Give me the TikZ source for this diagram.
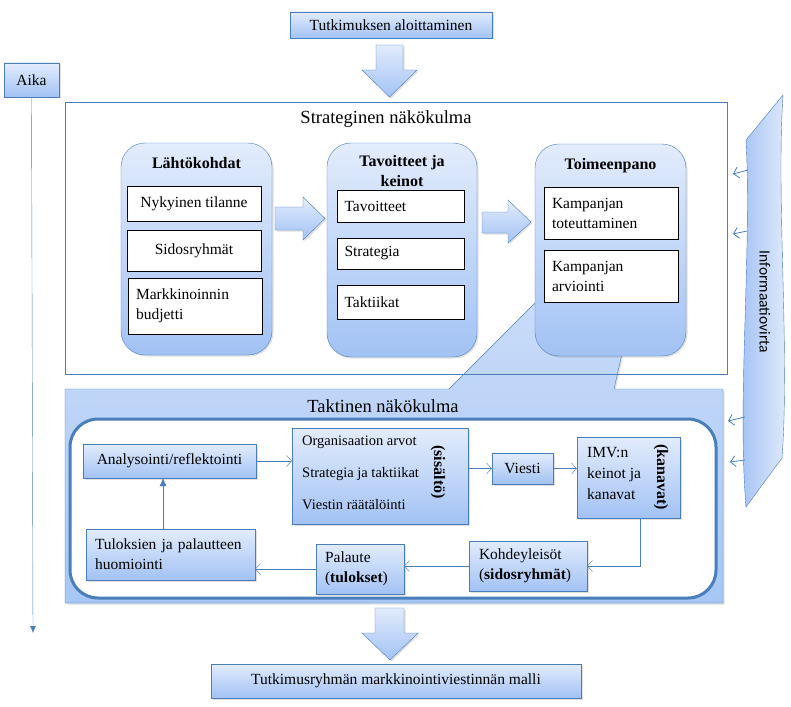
\documentclass[tikz,border=0pt]{standalone}
\usepackage{fontspec}
\setmainfont{Liberation Serif}
\newfontfamily\ribbonfont{Carlito}
\usetikzlibrary{arrows.meta,shadows}
\definecolor{linecol}{RGB}{74,126,187}
\definecolor{boxtop}{RGB}{226,236,252}
\definecolor{boxbot}{RGB}{162,194,244}
\definecolor{taktop}{RGB}{216,229,251}
\definecolor{takbot}{RGB}{166,198,244}
\definecolor{ribbonL}{RGB}{160,192,243}
\definecolor{ribbonR}{RGB}{228,237,252}
\tikzset{
  soft shadow/.style={drop shadow={opacity=.25,shadow xshift=1.5pt,shadow yshift=-1.5pt}},
  bluebox/.style={draw=linecol,top color=boxtop,bottom color=boxbot,soft shadow,inner sep=0pt,
    font=\fontsize{15.5}{20}\selectfont},
  phase/.style={bluebox,rounded corners=24pt,minimum width=151pt,minimum height=212pt},
  phasetitle/.style={font=\fontsize{16}{20}\selectfont\bfseries,align=center},
  item/.style={draw=black,fill=white,minimum width=134pt,inner sep=0pt,font=\fontsize{15.5}{20}\selectfont},
  itemleft/.style={item,align=left,text width=118pt},
  bigarrow/.style={draw=linecol,top color=boxtop,bottom color=boxbot,soft shadow},
  flow/.style={draw=linecol,-{Straight Barb[length=5pt,width=11pt]}},
  seclabel/.style={font=\fontsize{18.5}{22}\selectfont},
  sidelabel/.style={rotate=-90,font=\fontsize{16}{20}\selectfont\bfseries}
}
\begin{document}
\begin{tikzpicture}[x=1pt,y=-1pt]
  \useasboundingbox (0,0) rectangle (791,706);

  \node[bluebox,minimum width=202pt,minimum height=26pt] (alku) at (391,25) {Tutkimuksen aloittaminen};
  \draw[bigarrow] (376,45) -- (403,45) -- (403,70) -- (417,70) -- (389.5,97) -- (362,70) -- (376,70) -- cycle;

  \node[bluebox,minimum width=55pt,minimum height=34pt] (aika) at (31.5,80) {Aika};
  \coordinate (aikaend) at (33,633);
  \draw[linecol,-{Latex[length=7pt,width=6pt]}] (aika.south) -- (aikaend);

  % taktinen
  \draw[linecol,top color=taktop,bottom color=takbot,soft shadow]
    (65,389) -- (449,389) -- (662,176) -- (614,389) -- (723,389) -- (723,603) -- (65,603) -- cycle;
  \node[seclabel] (taktT) at (383,406) {Taktinen näkökulma};
  \node[draw=linecol,line width=3pt,fill=white,rounded corners=28pt,minimum width=646pt,
    minimum height=179pt] (taktin) at (393,508.5) {};

  % strateginen
  \node[draw=linecol,minimum width=662pt,minimum height=272pt] (strat) at (396,238) {};
  \node[seclabel] (stratT) at (386,119) {Strateginen näkökulma};

  \node[phase] (lahto) at (196.5,249) {};
  \node[phasetitle] (lahtoT) at (196.5,163) {Lähtökohdat};
  \node[item,minimum height=35pt] (nyky) at (194,203.5) {Nykyinen tilanne};
  \node[item,minimum height=41pt] (sidos) at (194,250.5) {Sidosryhmät};
  \node[itemleft,minimum height=56pt] (budj) at (195,306) {Markkinoinnin\\budjetti};

  \draw[bigarrow] (275,207) -- (303,207) -- (303,197) -- (325,218.5) -- (303,240) -- (303,230) -- (275,230) -- cycle;

  \node[phase,minimum width=150pt,minimum height=214pt] (tavo) at (402,250) {};
  \node[phasetitle] (tavoT) at (402,171) {Tavoitteet ja\\keinot};
  \node[itemleft,minimum width=127pt,text width=112pt,minimum height=32pt] (tav) at (400.5,206) {Tavoitteet};
  \node[itemleft,minimum width=127pt,text width=112pt,minimum height=31pt] (strg) at (400.5,253.5) {Strategia};
  \node[itemleft,minimum width=127pt,text width=112pt,minimum height=34pt] (takt) at (400.5,302) {Taktiikat};

  \draw[bigarrow] (482,212) -- (508,212) -- (508,200) -- (531,222) -- (508,243) -- (508,233) -- (482,233) -- cycle;

  \node[phase] (toim) at (610.5,250) {};
  \node[phasetitle] (toimT) at (610.5,166) {Toimeenpano};
  \node[itemleft,minimum height=52pt] (tot) at (611,213) {Kampanjan\\toteuttaminen};
  \node[itemleft,minimum height=52pt] (arv) at (611,276) {Kampanjan\\arviointi};

  % taktisen tason kulku
  \node[bluebox,minimum width=173pt,minimum height=34pt] (anal) at (169.5,461) {Analysointi/reflektointi};
  \node[bluebox,minimum width=176pt,minimum height=96pt] (sisalto) at (380,476) {};
  \node[anchor=west,inner sep=0pt,align=left,font=\fontsize{14.5}{32}\selectfont] (sisaltoT) at (302,473)
    {Organisaation arvot\\Strategia ja taktiikat\\Viestin räätälöinti};
  \node[sidelabel] (sisL) at (438,472) {(sisältö)};
  \node[bluebox,minimum width=61pt,minimum height=31pt] (viesti) at (522.5,468.5) {Viesti};
  \node[bluebox,minimum width=103pt,minimum height=81pt] (imv) at (628.5,477.5) {};
  \node[anchor=west,inner sep=0pt,align=left,font=\fontsize{15.5}{21}\selectfont] (imvT) at (587,473)
    {IMV:n\\keinot ja\\kanavat};
  \node[sidelabel] (imvL) at (661,477) {(kanavat)};
  \node[bluebox,minimum width=118pt,minimum height=50pt,align=left,text width=98pt] (kohde) at (528,566)
    {Kohdeyleisöt\\(\textbf{sidosryhmät})};
  \node[bluebox,minimum width=88pt,minimum height=50pt,align=left,text width=70pt] (palaute) at (360,569)
    {Palaute\\(\textbf{tulokset})};
  \node[bluebox,minimum width=169pt,minimum height=51pt,align=left,text width=151pt] (tulos) at (170.5,554.5)
    {Tuloksien ja palautteen\\huomiointi};

  \draw[flow] (anal.east) -- (anal.east -| sisalto.west);
  \draw[flow] (viesti.west -| sisalto.east) -- (viesti.west);
  \draw[flow] (viesti.east) -- (viesti.east -| imv.west);
  \draw[flow] ([xshift=11.5pt]imv.south) |- (kohde.east);
  \draw[flow] (kohde.west) -- (kohde.west -| palaute.east);
  \draw[flow] (palaute.west) -- (palaute.west -| tulos.east);
  \draw[linecol,-{Latex[length=8pt,width=7pt]}] ([xshift=-7.5pt]tulos.north) -- ([xshift=-7.5pt]tulos.north |- anal.south);

  % informaatiovirta
  \draw[linecol,left color=ribbonL,right color=ribbonR]
    (746,140) -- (783,95) .. controls (776,200) and (790,350) .. (782,458)
    -- (746,507) .. controls (737,400) and (752,250) .. (746,140) -- cycle;
  \node[rotate=-90,font=\ribbonfont\fontsize{15.5}{18}\selectfont] (infoT) at (765,302) {Informaatiovirta};
  \coordinate (r1) at (748,170);
  \coordinate (r2) at (747,231);
  \coordinate (r3) at (745,417);
  \coordinate (r4) at (745,460);
  \coordinate (s1) at (733,174);
  \coordinate (s2) at (733,234);
  \coordinate (s3) at (728,421);
  \coordinate (s4) at (730,462);
  \draw[flow,line width=.8pt] (r1) -- (s1);
  \draw[flow,line width=.8pt] (r2) -- (s2);
  \draw[flow,line width=.8pt] (r3) -- (s3);
  \draw[flow,line width=.8pt] (r4) -- (s4);

  \draw[bigarrow] (375,608) -- (404,608) -- (404,633) -- (418,633) -- (390,660) -- (362,633) -- (375,633) -- cycle;
  \node[bluebox,minimum width=370pt,minimum height=34pt] (malli) at (396,681)
    {Tutkimusryhmän markkinointiviestinnän malli};
\end{tikzpicture}
\end{document}
